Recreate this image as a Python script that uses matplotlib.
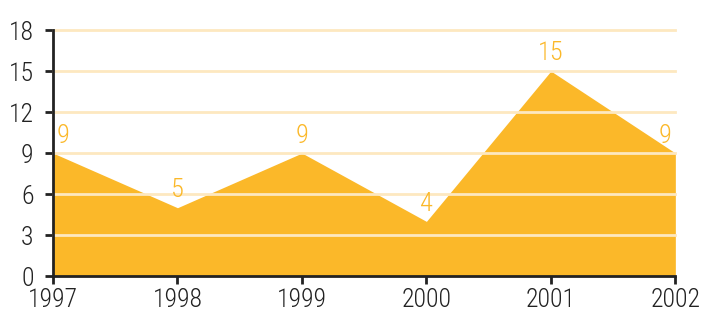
import matplotlib.pyplot as plt
from matplotlib import font_manager

years = ['1997', '1998', '1999', '2000', '2001', '2002']
values = [9, 5, 9, 4, 15, 9]
yticks = [0, 3, 6, 9, 12, 15, 18]

names = {f.name for f in font_manager.fontManager.ttflist}
font = 'DejaVu Sans'
for cand in ['Roboto Condensed', 'Archivo Narrow', 'Asap Condensed', 'Liberation Sans Narrow']:
    if cand in names:
        font = cand
        break
plt.rcParams['font.family'] = [font, 'DejaVu Sans']
plt.rcParams['font.weight'] = 'light'

fill_col = '#FBB829'
grid_col = '#FDE8C0'
ink = '#222222'

fig = plt.figure(figsize=(7.04, 3.13), dpi=100)
ax = fig.add_axes([0.0753, 0.118, 0.884, 0.786])

x = list(range(len(years)))
ax.fill_between(x, values, 0, color=fill_col, lw=0, zorder=1)
for t in yticks[1:]:
    ax.axhline(t, color=grid_col, lw=2, zorder=2, clip_on=False)

# value labels above the points, nudged inward at both ends
for i, v in enumerate(values):
    dx = 0
    if i == 0:
        dx = 0.08
    elif i == len(values) - 1:
        dx = -0.08
    ax.annotate(str(v), (i + dx, v), xytext=(0, 4), textcoords='offset points',
                ha='center', va='bottom', color=fill_col, fontsize=19, zorder=3)

ax.set_xlim(0, len(years) - 1)
ax.set_ylim(0, 18)
ax.set_xticks(x)
ax.set_xticklabels(years)
ax.set_yticks(yticks)
ax.tick_params(axis='both', labelsize=18.5, width=2, length=6, color=ink, labelcolor=ink)
ax.tick_params(axis='x', pad=2.5)
ax.tick_params(axis='y', pad=8)

for s in ['top', 'right']:
    ax.spines[s].set_visible(False)
for s in ['left', 'bottom']:
    ax.spines[s].set_linewidth(2)
    ax.spines[s].set_color(ink)
    ax.spines[s].set_zorder(4)

fig.savefig('out.png', dpi=100)
